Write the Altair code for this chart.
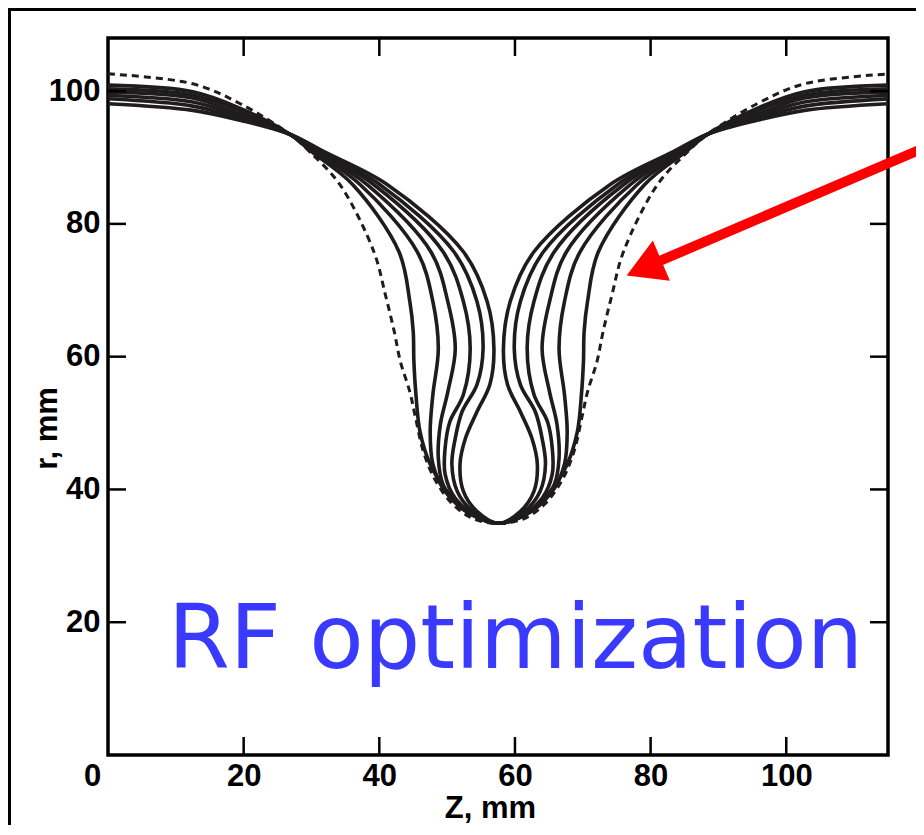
import altair as alt
import pandas as pd

# ---- data (z in mm, r in mm) ----
dashed_z = [0, 12.5, 19.5, 26.8, 29.8, 34.2, 39.2, 40.9, 42.2, 43.1, 44.5, 45.3, 46.5, 48.2, 50.9, 54.1, 57.6,
            61.1, 64.3, 67.0, 68.7, 69.9, 70.7, 72.1, 73.0, 74.3, 76.0, 81.0, 85.4, 88.4, 95.7, 102.7, 115.2]
dashed_r = [102.6, 101.1, 98.1, 93.5, 90.8, 85.9, 75.8, 69.3, 63.8, 59.3, 54.7, 51.0, 45.7, 41.5, 37.7, 35.5, 34.9,
            35.5, 37.7, 41.5, 45.7, 51.0, 54.7, 59.3, 63.8, 69.3, 75.8, 85.9, 90.8, 93.5, 98.1, 101.1, 102.6]

s1_z = [0, 12.5, 19.5, 26.8, 30.1, 36.1, 42.9, 44.5, 45.0, 45.1, 45.4, 46.0, 47.5, 50.0, 53.4, 57.6,
        61.8, 65.2, 67.7, 69.2, 69.8, 70.1, 70.2, 70.7, 72.3, 79.1, 85.1, 88.4, 95.7, 102.7, 115.2]
s1_r = [100.9, 99.9, 97.4, 93.5, 90.8, 85.9, 75.8, 68.3, 63.8, 59.3, 54.3, 48.7, 43.8, 39.7, 36.4, 34.9,
        36.4, 39.7, 43.8, 48.7, 54.3, 59.3, 63.8, 68.3, 75.8, 85.9, 90.8, 93.5, 97.4, 99.9, 100.9]

s2_z = [0, 12.5, 19.5, 26.8, 30.5, 37.2, 45.6, 47.9, 48.7, 47.9, 47.5, 47.9, 49.7, 53.4, 57.6,
        61.8, 65.5, 67.3, 67.7, 67.3, 66.5, 67.3, 69.6, 78.0, 84.7, 88.4, 95.7, 102.7, 115.2]
s2_r = [100.35, 99.4, 97.0, 93.5, 90.8, 85.9, 75.8, 68.3, 61.2, 54.3, 48.7, 43.8, 39.7, 36.4, 34.9,
        36.4, 39.7, 43.8, 48.7, 54.3, 61.2, 68.3, 75.8, 85.9, 90.8, 93.5, 97.0, 99.4, 100.35]

s3_z = [0, 12.5, 19.5, 26.8, 31.0, 38.2, 47.6, 50.1, 51.2, 50.1, 49.0, 48.7, 49.4, 51.5, 54.4, 57.6,
        60.8, 63.7, 65.8, 66.5, 66.2, 65.1, 64.0, 65.1, 67.6, 77.0, 84.2, 88.4, 95.7, 102.7, 115.2]
s3_r = [99.85, 98.95, 96.5, 93.5, 90.8, 85.9, 75.8, 68.3, 61.2, 54.7, 49.8, 44.7, 40.75, 37.7, 35.8, 34.9,
        35.8, 37.7, 40.75, 44.7, 49.8, 54.7, 61.2, 68.3, 75.8, 85.9, 90.8, 93.5, 96.5, 98.95, 99.85]

s4_z = [0, 12.5, 19.5, 26.8, 31.3, 39.2, 49.4, 52.4, 53.4, 52.4, 50.4, 49.7, 49.7, 51.2, 54.1, 57.6,
        61.1, 64.0, 65.5, 65.5, 64.8, 62.8, 61.8, 62.8, 65.8, 76.0, 83.9, 88.4, 95.7, 102.7, 115.2]
s4_r = [99.35, 98.35, 96.2, 93.5, 90.8, 85.9, 75.8, 68.3, 61.2, 54.3, 50.2, 46.2, 42.3, 38.65, 36.1, 34.9,
        36.1, 38.65, 42.3, 46.2, 50.2, 54.3, 61.2, 68.3, 75.8, 85.9, 90.8, 93.5, 96.2, 98.35, 99.35]

s5_z = [0, 12.5, 19.5, 26.8, 31.6, 40.1, 51.0, 54.4, 55.3, 54.4, 52.2, 51.2, 50.7, 51.5, 53.8, 57.6,
        61.4, 63.7, 64.5, 64.0, 63.0, 60.8, 59.9, 60.8, 64.2, 75.1, 83.6, 88.4, 95.7, 102.7, 115.2]
s5_r = [98.84, 97.74, 95.9, 93.5, 90.8, 85.9, 75.8, 68.3, 61.2, 55.8, 51.7, 47.7, 43.8, 39.7, 36.7, 34.9,
        36.7, 39.7, 43.8, 47.7, 51.7, 55.8, 61.2, 68.3, 75.8, 85.9, 90.8, 93.5, 95.9, 97.74, 98.84]

s6_z = [0, 12.5, 19.5, 26.8, 32.0, 41.2, 52.4, 55.9, 56.9, 56.3, 54.4, 52.7, 51.9, 52.4, 54.4, 57.6,
        60.8, 62.8, 63.3, 62.5, 60.8, 58.9, 58.3, 59.3, 62.8, 74.0, 83.2, 88.4, 95.7, 102.7, 115.2]
s6_r = [98.1, 97.1, 95.6, 93.5, 90.8, 85.9, 75.8, 68.3, 61.2, 55.8, 51.7, 47.7, 43.8, 39.7, 36.7, 34.9,
        36.7, 39.7, 43.8, 47.7, 51.7, 55.8, 61.2, 68.3, 75.8, 85.9, 90.8, 93.5, 95.6, 97.1, 98.1]

x_ticks = [0, 20, 40, 60, 80, 100]
y_ticks = [20, 40, 60, 80, 100]
inner_ticks = [20, 40, 60, 80, 100]
annotation = "RF optimization"

# ---- build tables ----
solid_rows = []
for name, zs, rs in [("s1", s1_z, s1_r), ("s2", s2_z, s2_r), ("s3", s3_z, s3_r),
                     ("s4", s4_z, s4_r), ("s5", s5_z, s5_r), ("s6", s6_z, s6_r)]:
    for i, (z, r) in enumerate(zip(zs, rs)):
        solid_rows.append({"curve": name, "idx": i, "z": z, "r": r})
solid_df = pd.DataFrame(solid_rows)
dashed_df = pd.DataFrame({"curve": "dashed", "idx": list(range(len(dashed_z))), "z": dashed_z, "r": dashed_r})
ticks_df = pd.DataFrame({"t": inner_ticks})
one = pd.DataFrame({"a": [0]})

W, H = 780, 717
FONT = "Liberation Sans"
xscale = alt.Scale(domain=[0, 115], nice=False, zero=False)
yscale = alt.Scale(domain=[0, 108], nice=False, zero=False)

x_axis = alt.Axis(values=x_ticks, ticks=False, tickSize=0, domain=False, grid=False,
                  labelFont=FONT, labelFontWeight="bold", labelFontSize=31, labelColor="black",
                  labelPadding=6, labelFlush=False,
                  labelOffset={"condition": {"test": "datum.value == 0", "value": -16}, "value": 0},
                  title="Z, mm", titleFont=FONT, titleFontWeight="bold", titleFontSize=31,
                  titleColor="black", titleX=382, titleY=53, titleBaseline="middle", titleAlign="center")
y_axis = alt.Axis(values=y_ticks, ticks=False, tickSize=0, domain=False, grid=False,
                  labelFont=FONT, labelFontWeight="bold", labelFontSize=31, labelColor="black",
                  labelPadding=8,
                  title="r, mm", titleFont=FONT, titleFontWeight="bold", titleFontSize=31,
                  titleColor="black", titleX=-61, titleY=390, titleAngle=-90,
                  titleBaseline="middle", titleAlign="center")

solid = alt.Chart(solid_df).mark_line(
    interpolate="catmull-rom", strokeWidth=3.6, color="#1e1c1c", clip=True
).encode(
    x=alt.X("z:Q", scale=xscale, axis=x_axis),
    y=alt.Y("r:Q", scale=yscale, axis=y_axis),
    detail="curve:N",
    order="idx:Q",
)

dashed = alt.Chart(dashed_df).mark_line(
    interpolate="catmull-rom", strokeWidth=3, color="#1e1c1c", strokeDash=[7, 5], clip=True
).encode(
    x=alt.X("z:Q", scale=xscale),
    y=alt.Y("r:Q", scale=yscale),
    order="idx:Q",
)

tick_style = dict(color="black", strokeWidth=2.5)
bottom_t = alt.Chart(ticks_df).mark_rule(**tick_style).encode(
    x=alt.X("t:Q", scale=xscale), y=alt.value(H), y2=alt.value(H - 18))
top_t = alt.Chart(ticks_df).mark_rule(**tick_style).encode(
    x=alt.X("t:Q", scale=xscale), y=alt.value(0), y2=alt.value(18))
left_t = alt.Chart(ticks_df).mark_rule(**tick_style).encode(
    y=alt.Y("t:Q", scale=yscale), x=alt.value(0), x2=alt.value(18))
right_t = alt.Chart(ticks_df).mark_rule(**tick_style).encode(
    y=alt.Y("t:Q", scale=yscale), x=alt.value(W), x2=alt.value(W - 18))

# outer frame of the slide (top and left edges)
frame_top = alt.Chart(one).mark_rule(color="black", strokeWidth=3).encode(
    x=alt.value(-100), x2=alt.value(W + 40), y=alt.value(-28.5))
frame_left = alt.Chart(one).mark_rule(color="black", strokeWidth=3).encode(
    x=alt.value(-98.5), y=alt.value(-30), y2=alt.value(H + 80))

# red arrow
arrow_shaft = alt.Chart(one).mark_rule(color="#ff0000", strokeWidth=10, strokeCap="butt").encode(
    x=alt.value(830), y=alt.value(104), x2=alt.value(540), y2=alt.value(228))
arrow_head = alt.Chart(one).mark_point(
    shape="triangle-left", size=1900, filled=True, color="#ff0000", opacity=1, angle=337
).encode(x=alt.value(536), y=alt.value(230))

label = alt.Chart(pd.DataFrame({"txt": [annotation]})).mark_text(
    font="DejaVu Sans", fontSize=89, color="#3a3aff", align="left", baseline="alphabetic"
).encode(x=alt.value(60), y=alt.value(630), text="txt:N")

chart = alt.layer(
    frame_top, frame_left, solid, dashed, bottom_t, top_t, left_t, right_t,
    arrow_shaft, arrow_head, label
).properties(
    width=W, height=H,
    autosize=alt.AutoSizeParams(type="none"),
    padding={"left": 100, "top": 30, "right": 28, "bottom": 70},
    background="white",
).configure_view(stroke="black", strokeWidth=3.5)

chart.save("out.html", embed_options={"renderer": "svg", "actions": False})
